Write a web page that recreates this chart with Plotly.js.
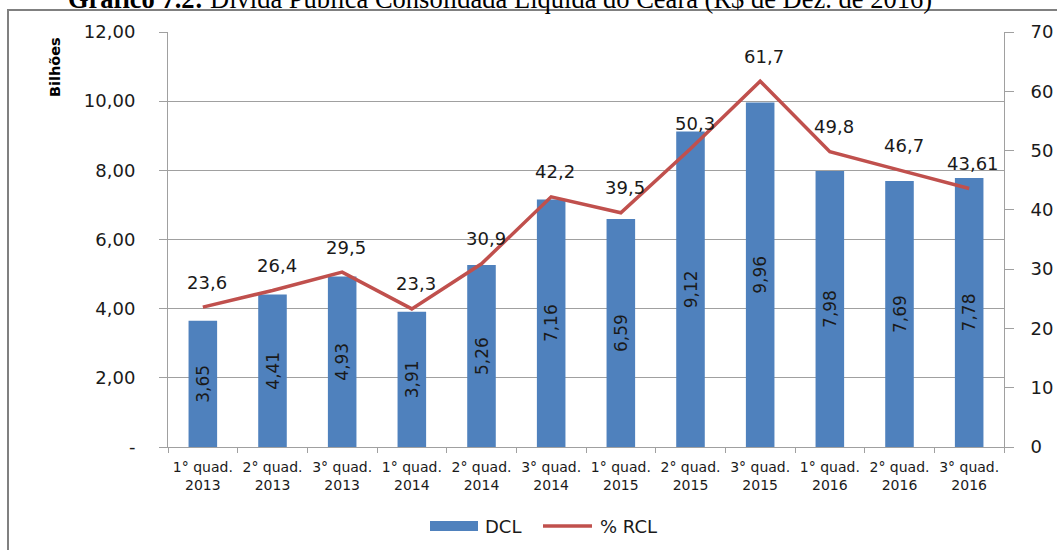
<!DOCTYPE html>
<html>
<head>
<meta charset="utf-8">
<script src="https://cdn.plot.ly/plotly-3.0.1.min.js"></script>
<style>html,body{margin:0;padding:0;background:#fff;}#chart{width:1057px;height:550px;}</style>
</head>
<body>
<div id="chart"></div>
<script>
const categories = ["1° quad.<br>2013","2° quad.<br>2013","3° quad.<br>2013","1° quad.<br>2014","2° quad.<br>2014","3° quad.<br>2014","1° quad.<br>2015","2° quad.<br>2015","3° quad.<br>2015","1° quad.<br>2016","2° quad.<br>2016","3° quad.<br>2016"];
const dcl = [3.65, 4.41, 4.93, 3.91, 5.26, 7.16, 6.59, 9.12, 9.96, 7.98, 7.69, 7.78];
const rcl = [23.6, 26.4, 29.5, 23.3, 30.9, 42.2, 39.5, 50.3, 61.7, 49.8, 46.7, 43.61];
const leftTickVals = [0, 2, 4, 6, 8, 10, 12];
const leftTickText = ["-", "2,00", "4,00", "6,00", "8,00", "10,00", "12,00"];
const rightTickVals = [0, 10, 20, 30, 40, 50, 60, 70];
const titleText = "<b>Gráfico 7.2:</b> Dívida Pública Consolidada Líquida do Ceará (R$ de Dez. de 2016)";
const yTitle = "Bilhões";
const seriesNames = ["DCL", "% RCL"];

const W = 1057, H = 550;
const M = {l: 168, r: 53, t: 32, b: 103};
const pw = W - M.l - M.r, ph = H - M.t - M.b;
const px = x => (x - M.l) / pw;
const py = y => (H - M.b - y) / ph;

const fmt = v => String(v).replace('.', ',');
const BLUE = '#4F81BD', RED = '#C0504D', GRAY = '#A0A0A0', TXT = '#1a1a1a';
const FONT = 'DejaVu Sans, sans-serif';

const traces = [
  {
    type: 'bar', x: categories, y: dcl, name: seriesNames[0],
    marker: {color: BLUE},
    text: dcl.map(v => v.toFixed(2).replace('.', ',')),
    textposition: 'inside', insidetextanchor: 'middle', textangle: -90,
    constraintext: 'none',
    insidetextfont: {family: FONT, size: 17, color: TXT},
    hoverinfo: 'skip', showlegend: false
  },
  {
    type: 'scatter', mode: 'lines', x: categories, y: rcl, yaxis: 'y2', name: seriesNames[1],
    line: {color: RED, width: 3.5},
    cliponaxis: false,
    hoverinfo: 'skip', showlegend: false
  }
];

const annotations = rcl.map((v, i) => ({
  x: categories[i], y: v, xref: 'x', yref: 'y2',
  text: fmt(v), showarrow: false, xshift: 4, yshift: 25,
  xanchor: 'center', yanchor: 'middle',
  font: {family: FONT, size: 18, color: TXT}
}));

annotations.push({
  xref: 'paper', yref: 'paper', x: px(55), y: py(67),
  text: '<b>' + yTitle + '</b>', textangle: -90, showarrow: false,
  xanchor: 'center', yanchor: 'middle',
  font: {family: FONT, size: 14.5, color: '#000'}
});
annotations.push({
  xref: 'paper', yref: 'paper', x: px(500), y: py(-1),
  text: titleText, showarrow: false, xanchor: 'center', yanchor: 'middle',
  font: {family: 'Liberation Serif, Times New Roman, serif', size: 26.5, color: '#000'}
});
annotations.push({
  xref: 'paper', yref: 'paper', x: px(483), y: py(526),
  text: seriesNames[0], showarrow: false, xanchor: 'left', yanchor: 'middle',
  font: {family: FONT, size: 18, color: TXT}
});
annotations.push({
  xref: 'paper', yref: 'paper', x: px(598), y: py(526),
  text: seriesNames[1], showarrow: false, xanchor: 'left', yanchor: 'middle',
  font: {family: FONT, size: 18, color: TXT}
});

const shapes = [
  {type: 'rect', xref: 'paper', yref: 'paper', x0: px(8), x1: px(1070), y0: py(10), y1: py(600),
   line: {color: '#808080', width: 2}, fillcolor: 'rgba(0,0,0,0)', layer: 'below'},
  {type: 'rect', xref: 'paper', yref: 'paper', x0: px(430), x1: px(478), y0: py(521), y1: py(531),
   line: {width: 0}, fillcolor: BLUE},
  {type: 'line', xref: 'paper', yref: 'paper', x0: px(543), x1: px(592), y0: py(526), y1: py(526),
   line: {color: RED, width: 3.5}}
];

const layout = {
  width: W, height: H,
  margin: M,
  paper_bgcolor: '#fff', plot_bgcolor: '#fff',
  showlegend: false,
  bargap: 0.59,
  font: {family: FONT, color: TXT},
  xaxis: {
    type: 'category', showline: true, linecolor: GRAY, linewidth: 1,
    ticks: 'outside', tickson: 'boundaries', ticklen: 5, tickcolor: GRAY,
    ticklabelstandoff: 7, tickangle: 0,
    tickfont: {family: FONT, size: 14, color: TXT}, showgrid: false, fixedrange: true
  },
  yaxis: {
    range: [0, 12], tickvals: leftTickVals, ticktext: leftTickText,
    showline: true, linecolor: GRAY, linewidth: 1,
    showgrid: true, gridcolor: GRAY, gridwidth: 1, zeroline: false,
    ticks: 'outside', ticklen: 8, tickcolor: GRAY, ticklabelstandoff: 20,
    tickfont: {family: FONT, size: 18, color: TXT}, fixedrange: true
  },
  yaxis2: {
    range: [0, 70], tickvals: rightTickVals, overlaying: 'y', side: 'right',
    showline: true, linecolor: GRAY, linewidth: 1, showgrid: false, zeroline: false,
    ticks: 'outside', ticklen: 9, tickcolor: GRAY, ticklabelstandoff: 13,
    tickfont: {family: FONT, size: 18, color: TXT}, fixedrange: true
  },
  annotations: annotations,
  shapes: shapes
};

Plotly.newPlot('chart', traces, layout, {staticPlot: true, displayModeBar: false});
</script>
</body>
</html>
